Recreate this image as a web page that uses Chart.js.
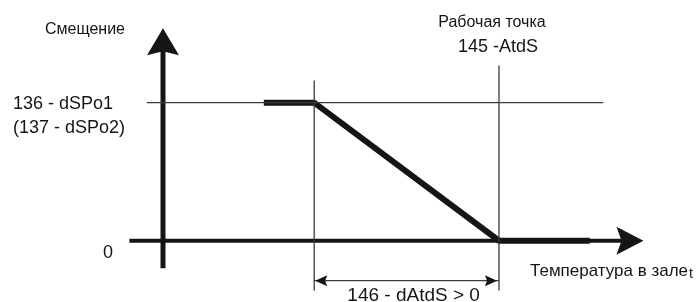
<!DOCTYPE html>
<html>
<head>
<meta charset="utf-8">
<script src="https://cdn.jsdelivr.net/npm/chart.js@4/dist/chart.umd.min.js"></script>
<style>
  html, body { margin: 0; padding: 0; background: #ffffff; }
  #wrap { width: 697px; height: 302px; }
</style>
</head>
<body>
<div id="wrap"><canvas id="c" width="697" height="302"></canvas></div>
<script>
// ---- chart data (schematic units) ----
const yTickValues = [0, 1];
const yTickLabels = ['0', ['136 - dSPo1', '(137 - dSPo2)']];
const setPoint = 10;          // 145 - AtdS
const band = 5.5;             // 146 - dAtdS
const curveX = [3, 4.5, 10, 12.7];
const curveY = [1, 1, 0, 0];
const xAxisRange = [-1, 14.3];
const yAxisRange = [-0.2, 1.54];
const refLineX = [-0.48, 13.1];
const setPointLineY = [-0.36, 1.27];
const bandStartLineY = [-0.36, 1.16];
const dimensionY = -0.29;
const xTickLabels = ['Рабочая точка', '145 -AtdS'];
const yTitle = 'Смещение';
const xTitle = 'Температура в зале';
const xTitleSuffix = 't';
const bandLabel = '146 - dAtdS > 0';

const FONT = "'Liberation Sans', Arial, sans-serif";
const INK = '#151515';
const THIN = '#3c3c3c';

function pts(xs, ys) { return xs.map((x, i) => ({ x: x, y: ys[i] })); }

const datasets = [
  { data: pts(refLineX, [yTickValues[1], yTickValues[1]]), borderColor: THIN, borderWidth: 1.3 },
  { data: pts([setPoint, setPoint], setPointLineY), borderColor: THIN, borderWidth: 1.3 },
  { data: pts([setPoint - band, setPoint - band], bandStartLineY), borderColor: THIN, borderWidth: 1.3 },
  { data: pts([setPoint - band, setPoint], [dimensionY, dimensionY]), borderColor: THIN, borderWidth: 1.3 },
  { data: pts([xAxisRange[0], xAxisRange[1] - 0.6], [0, 0]), borderColor: INK, borderWidth: 4 },
  { data: pts([0, 0], [yAxisRange[0], yAxisRange[1] - 0.15]), borderColor: INK, borderWidth: 5 },
  { data: pts(curveX, curveY), borderColor: INK, borderWidth: 6, borderJoinStyle: 'miter' }
];
datasets.forEach(d => {
  d.showLine = true; d.pointRadius = 0; d.pointHoverRadius = 0;
  d.borderCapStyle = 'butt'; d.tension = 0; d.fill = false;
});

function arrow(ctx, x, y, ang, len, hw, notch, color) {
  ctx.save();
  ctx.translate(x, y);
  ctx.rotate(ang);
  ctx.beginPath();
  ctx.moveTo(0, 0);
  ctx.lineTo(-len, -hw);
  ctx.lineTo(-len + notch, 0);
  ctx.lineTo(-len, hw);
  ctx.closePath();
  ctx.fillStyle = color;
  ctx.fill();
  ctx.restore();
}

const decor = {
  id: 'decor',
  afterDatasetsDraw(chart) {
    const ctx = chart.ctx;
    const xs = chart.scales.x, ys = chart.scales.y;
    const px = v => xs.getPixelForValue(v);
    const py = v => ys.getPixelForValue(v);
    // axis arrowheads
    arrow(ctx, px(0), py(yAxisRange[1]), -Math.PI / 2, 27, 16, 4, INK);
    arrow(ctx, px(xAxisRange[1]), py(0), 0, 27, 14, 5, INK);
    // dimension arrowheads
    arrow(ctx, px(setPoint - band) + 1, py(dimensionY), Math.PI, 12, 5.5, 2, INK);
    arrow(ctx, px(setPoint) - 2, py(dimensionY), 0, 12, 5.5, 2, INK);

    ctx.save();
    ctx.fillStyle = INK;
    ctx.textBaseline = 'alphabetic';
    // y tick labels
    ctx.font = '18px ' + FONT;
    ctx.textAlign = 'center';
    ctx.fillText(yTickLabels[0], 108, py(yTickValues[0]) + 17.5);
    ctx.textAlign = 'left';
    ctx.fillText(yTickLabels[1][0], 13, py(yTickValues[1]) + 6.6);
    ctx.fillText(yTickLabels[1][1], 13, py(yTickValues[1]) + 30);
    // y title
    ctx.font = '16px ' + FONT;
    ctx.fillText(yTitle, 45, 33.5);
    // x tick (set point)
    ctx.textAlign = 'center';
    ctx.font = '16px ' + FONT;
    ctx.fillText(xTickLabels[0], px(setPoint) - 7, 26.7);
    ctx.font = '18px ' + FONT;
    ctx.fillText(xTickLabels[1], px(setPoint) - 1, 51.7);
    // band label
    ctx.font = '19px ' + FONT;
    ctx.fillText(bandLabel, (px(setPoint - band) + px(setPoint)) / 2 + 7, 300.5);
    // x title
    ctx.textAlign = 'left';
    ctx.font = '17px ' + FONT;
    ctx.fillText(xTitle, 530, 276);
    const w = ctx.measureText(xTitle).width;
    ctx.font = '14px ' + FONT;
    ctx.fillText(xTitleSuffix, 530 + w + 1, 278);
    ctx.restore();
  }
};

new Chart(document.getElementById('c'), {
  type: 'scatter',
  data: { datasets: datasets },
  options: {
    responsive: false,
    animation: false,
    events: [],
    layout: { padding: 0 },
    plugins: { legend: { display: false }, tooltip: { enabled: false }, title: { display: false } },
    scales: {
      x: { type: 'linear', display: false, min: -163 / 33.6, max: (697 - 163) / 33.6 },
      y: { type: 'linear', display: false, min: -61.3 / 138, max: 240.7 / 138 }
    }
  },
  plugins: [decor]
});
</script>
</body>
</html>
